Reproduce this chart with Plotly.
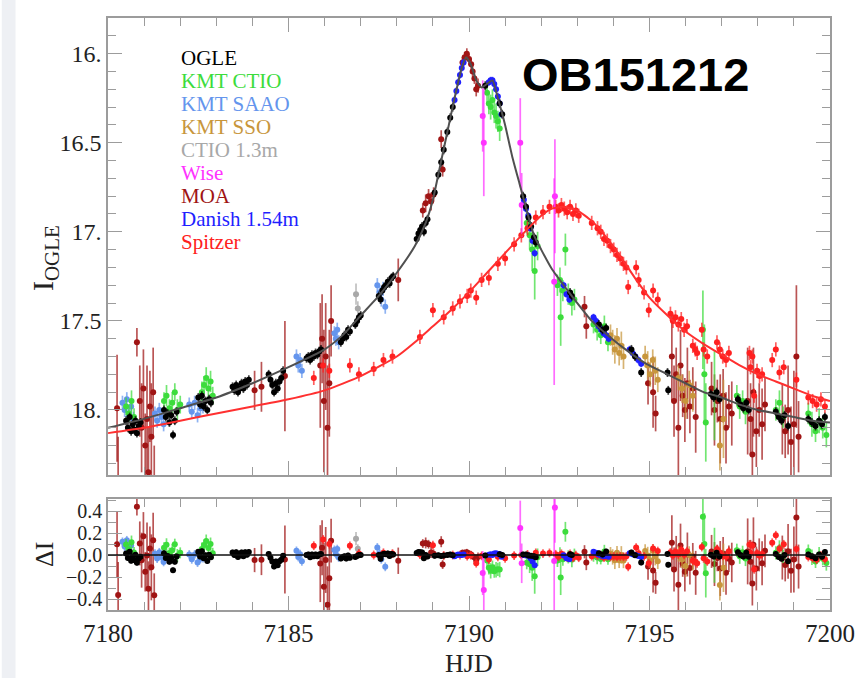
import numpy as np
import plotly.graph_objects as go

# ---------------- model curves ----------------
GROUND_T = [7180.0, 7181.0, 7182.0, 7183.0, 7184.0, 7185.0, 7186.0, 7186.5, 7187.0, 7187.5,
            7188.0, 7188.5, 7188.8, 7189.0, 7189.2, 7189.4, 7189.6, 7189.8, 7189.92, 7190.05,
            7190.2, 7190.35, 7190.5, 7190.65, 7190.8, 7191.0, 7191.2, 7191.4, 7191.6, 7191.8,
            7192.0, 7192.3, 7192.7, 7193.0, 7193.4, 7193.9, 7194.4, 7194.9, 7195.5, 7196.0,
            7196.5, 7197.0, 7197.5, 7198.0, 7198.5, 7199.0, 7199.5, 7200.0]
GROUND_I = [18.10, 18.05, 17.99, 17.93, 17.85, 17.76, 17.66, 17.58, 17.47, 17.36,
            17.23, 17.08, 16.95, 16.82, 16.63, 16.44, 16.25, 16.08, 16.02, 16.06,
            16.15, 16.19, 16.17, 16.15, 16.25, 16.40, 16.58, 16.73, 16.88, 17.02,
            17.10, 17.21, 17.32, 17.40, 17.50, 17.59, 17.67, 17.74, 17.80, 17.85,
            17.90, 17.93, 17.97, 18.00, 18.02, 18.04, 18.06, 18.07]

SPZ_MODEL_T = [7180.0, 7181.0, 7182.0, 7183.0, 7184.0, 7185.0, 7186.0, 7187.0, 7188.0, 7188.5,
               7189.0, 7189.5, 7190.0, 7190.5, 7191.0, 7191.5, 7192.0, 7192.3, 7192.6, 7193.0,
               7193.4, 7193.8, 7194.2, 7194.6, 7195.0, 7195.5, 7196.0, 7196.5, 7197.0, 7197.5,
               7198.0, 7198.5, 7199.0, 7199.5, 7200.0]
SPZ_MODEL_I = [18.13, 18.10, 18.06, 18.02, 17.98, 17.94, 17.89, 17.81, 17.70, 17.62,
               17.53, 17.44, 17.34, 17.23, 17.12, 17.01, 16.91, 16.87, 16.86, 16.88,
               16.94, 17.03, 17.14, 17.26, 17.37, 17.47, 17.56, 17.63, 17.69, 17.75,
               17.80, 17.84, 17.88, 17.92, 17.95]

# ---------------- data ----------------
OGLE_T = [7180.50, 7180.55, 7180.60, 7180.64, 7180.68, 7180.72, 7180.76, 7180.80, 7180.85, 7180.90,
          7181.55, 7181.60, 7181.65, 7181.70, 7181.75, 7181.80, 7181.85, 7181.90,
          7182.50, 7182.55, 7182.60, 7182.65, 7182.70, 7182.75, 7182.80, 7182.85,
          7183.45, 7183.50, 7183.55, 7183.60, 7183.65, 7183.70, 7183.75, 7183.80, 7183.85, 7183.90,
          7184.45, 7184.50, 7184.55, 7184.60, 7184.65, 7184.70, 7184.75, 7184.80, 7184.85,
          7185.50, 7185.55, 7185.60, 7185.65, 7185.70, 7185.75, 7185.80, 7185.85, 7185.90,
          7186.45, 7186.50, 7186.55, 7186.60, 7186.65, 7186.70,
          7186.85, 7186.90, 7186.95, 7187.00,
          7187.50, 7187.55, 7187.60, 7187.65, 7187.70, 7187.75, 7187.80, 7187.85, 7187.90,
          7188.55, 7188.60, 7188.65, 7188.70, 7188.75, 7188.80, 7188.85,
          7189.05, 7189.15, 7189.23, 7189.30, 7189.40, 7189.48, 7189.55,
          7190.45, 7190.85, 7190.92,
          7191.50, 7191.58, 7191.65, 7191.72, 7191.80, 7191.85,
          7192.80, 7192.85,
          7193.60, 7193.70, 7193.80,
          7194.50, 7194.60, 7194.77,
          7195.50, 7195.52,
          7196.70, 7196.78, 7196.86, 7196.94,
          7197.45, 7197.52, 7197.60, 7197.68, 7197.75,
          7198.50, 7198.58, 7198.66, 7198.74, 7198.84,
          7199.40, 7199.50, 7199.60, 7199.70, 7199.78, 7199.86]
OGLE_I = [18.06, 18.10, 18.04, 18.12, 18.08, 18.11, 18.06, 18.13, 18.09, 18.07,
          18.00, 18.04, 18.02, 18.07, 18.03, 18.14, 18.06, 18.01,
          17.93, 17.97, 17.92, 17.98, 17.95, 18.00, 17.94, 17.96,
          17.87, 17.89, 17.86, 17.90, 17.88, 17.85, 17.88, 17.84, 17.86, 17.83,
          17.80, 17.83, 17.86, 17.90, 17.85, 17.88, 17.84, 17.82, 17.78,
          17.71, 17.70, 17.72, 17.69, 17.70, 17.68, 17.69, 17.67, 17.66,
          17.62, 17.60, 17.58, 17.59, 17.55, 17.56,
          17.52, 17.50, 17.48, 17.47,
          17.36, 17.38, 17.33, 17.31, 17.30, 17.28, 17.29, 17.26, 17.25,
          17.04, 17.01, 16.99, 16.97, 17.00, 16.95, 16.93,
          16.78, 16.68, 16.61, 16.54, 16.44, 16.36, 16.30,
          16.18, 16.28, 16.34,
          16.80, 16.86, 16.92, 16.97, 17.03, 17.06,
          17.34, 17.36,
          17.52, 17.55, 17.54,
          17.66, 17.70, 17.79,
          17.79, 17.89,
          17.91, 17.93, 17.90, 17.94,
          17.94, 17.97, 17.99, 17.96, 18.00,
          18.01, 18.04, 18.06, 18.03, 18.09,
          18.05, 18.07, 18.09, 18.06, 18.08, 18.04]
OGLE_ERR = 0.025

CTIO_T = [7180.50, 7180.58, 7180.65, 7180.72,
          7181.55, 7181.62, 7181.70, 7181.78, 7181.85, 7181.92, 7182.00,
          7182.60, 7182.66, 7182.72, 7182.78, 7182.84, 7182.90,
          7190.50, 7190.55, 7190.60, 7190.65, 7190.70, 7190.75, 7190.80, 7190.85,
          7191.60, 7191.68, 7191.75, 7191.82, 7191.90,
          7192.45, 7192.52, 7192.54, 7192.60, 7192.67, 7192.75, 7192.85, 7192.92,
          7193.45, 7193.55, 7193.65, 7193.75, 7193.85,
          7196.48, 7196.52, 7196.56, 7196.80,
          7197.42, 7197.50, 7197.58, 7197.66,
          7198.50, 7198.60, 7198.70,
          7199.40, 7199.50, 7199.60, 7199.70, 7199.80, 7199.90]
CTIO_I = [17.98, 18.02, 17.95, 18.04,
          17.95, 17.92, 17.99, 17.96, 17.90, 18.00, 17.97,
          17.90, 17.86, 17.82, 17.88, 17.84, 17.92,
          16.22, 16.28, 16.30, 16.26, 16.33, 16.35, 16.38, 16.42,
          16.95, 17.02, 17.10, 17.22, 17.08,
          17.30, 17.27, 17.48, 17.33, 17.10, 17.35, 17.40, 17.38,
          17.52, 17.55, 17.58, 17.53, 17.62,
          17.55, 17.80, 18.07, 17.92,
          17.92, 17.98, 17.95, 18.01,
          18.00, 17.96, 18.04,
          18.02, 18.08, 18.12, 18.06, 18.10, 18.14]
CTIO_E = [0.05, 0.05, 0.06, 0.05,
          0.05, 0.06, 0.05, 0.06, 0.05, 0.06, 0.05,
          0.06, 0.05, 0.06, 0.05, 0.06, 0.05,
          0.07, 0.06, 0.07, 0.06, 0.06, 0.07, 0.06, 0.07,
          0.06, 0.08, 0.12, 0.16, 0.08,
          0.06, 0.07, 0.16, 0.06, 0.09, 0.06, 0.07, 0.06,
          0.05, 0.06, 0.05, 0.06, 0.05,
          0.22, 0.28, 0.22, 0.25,
          0.06, 0.07, 0.06, 0.07,
          0.06, 0.07, 0.06,
          0.06, 0.07, 0.06, 0.07, 0.06, 0.07]

SAAO_T = [7180.40, 7180.46, 7180.52, 7180.58, 7180.64, 7180.70,
          7181.30, 7181.36, 7181.42, 7181.48, 7181.54,
          7182.25, 7182.32, 7182.40, 7182.48, 7182.56, 7182.63,
          7185.22, 7185.27, 7185.32, 7185.37,
          7186.27, 7186.31, 7186.35, 7186.39,
          7187.46, 7187.52, 7187.57, 7187.62, 7187.68]
SAAO_I = [17.96, 18.00, 17.94, 18.03, 17.98, 18.05,
          18.02, 18.06, 18.00, 18.04, 18.08,
          17.97, 18.01, 17.96, 18.03, 17.99, 17.98,
          17.70, 17.75, 17.72, 17.78,
          17.57, 17.60, 17.55, 17.62,
          17.30, 17.34, 17.38, 17.32, 17.42]
SAAO_ERR = 0.04

SSO_T = [7193.92, 7193.98, 7194.04, 7194.10, 7194.16, 7194.22, 7194.28,
         7194.88, 7194.95, 7195.02, 7195.09, 7195.16, 7195.23,
         7195.80, 7195.90, 7196.00, 7196.10, 7196.20,
         7196.95, 7197.05]
SSO_I = [17.58, 17.62, 17.66, 17.60, 17.68, 17.64, 17.70,
         17.70, 17.75, 17.80, 17.72, 17.78, 17.83,
         17.82, 17.88, 17.95, 17.86, 17.92,
         18.20, 18.05]
SSO_E = [0.06, 0.07, 0.08, 0.06, 0.07, 0.08, 0.07,
         0.06, 0.08, 0.07, 0.06, 0.08, 0.07,
         0.07, 0.08, 0.10, 0.08, 0.09,
         0.14, 0.22]

CT13_T = [7186.87, 7186.92]
CT13_I = [17.35, 17.43]
CT13_E = [0.06, 0.04]

WISE_T = [7190.38, 7190.41, 7191.42, 7191.46, 7192.36, 7192.38]
WISE_I = [16.35, 16.50, 16.50, 16.85, 17.28, 16.80]
WISE_E = [0.20, 0.30, 0.25, 0.18, 0.58, 0.32]

MOA_T = [7180.25, 7180.28, 7180.80,
         7180.88, 7180.93, 7180.98, 7181.03, 7181.08, 7181.12, 7181.16, 7181.20, 7181.25, 7181.28,
         7184.06, 7184.25, 7184.90,
         7185.88, 7185.93, 7185.98, 7186.03, 7186.08, 7186.13, 7186.18,
         7188.04,
         7188.72, 7188.80, 7188.88, 7188.95, 7189.02,
         7189.23, 7189.27,
         7189.82, 7189.88, 7189.94, 7190.00, 7190.06, 7190.10, 7190.15, 7190.20, 7190.25,
         7193.20, 7193.25,
         7194.96, 7195.10, 7195.17,
         7195.62, 7195.68, 7195.74, 7195.80, 7195.86, 7195.92, 7195.98, 7196.05, 7196.12, 7196.20, 7196.28,
         7196.72, 7196.80, 7196.88, 7196.96, 7197.04, 7197.12, 7197.20, 7197.28,
         7197.72, 7197.80, 7197.85, 7197.88, 7197.96, 7198.04, 7198.12, 7198.20,
         7198.68, 7198.76, 7198.84, 7198.92, 7199.00, 7199.07, 7199.13]
MOA_I = [17.99, 18.45, 17.62,
         17.95, 18.10, 17.88, 18.20, 18.05, 18.35, 17.98, 18.15, 17.90, 18.40,
         17.89, 17.87, 17.81,
         17.75, 17.60, 17.95, 17.70, 18.10, 17.85, 17.50,
         17.27,
         16.88, 16.84, 16.80, 16.83, 16.79,
         16.48, 16.65,
         16.05, 16.02, 16.00, 16.03, 16.06, 16.10, 16.14, 16.20, 16.18,
         17.42, 17.53,
         17.85, 17.90, 18.02,
         17.70, 17.95, 17.80, 18.10, 17.75, 17.92, 18.00, 17.85, 17.98, 17.88, 18.04,
         17.88, 18.00, 17.95, 18.05, 17.92, 18.10, 17.98, 18.02,
         17.95, 18.05, 18.25, 17.90, 18.12, 18.00, 18.08, 17.97,
         18.05, 18.12, 18.00, 18.18, 18.08, 17.70, 18.15]
MOA_E = [0.30, 0.30, 0.08,
         0.20, 0.25, 0.22, 0.18, 0.30, 0.25, 0.20, 0.30, 0.25, 0.20,
         0.11, 0.14, 0.31,
         0.35, 0.25, 0.40, 0.30, 0.35, 0.30, 0.20,
         0.12,
         0.04, 0.05, 0.04, 0.05, 0.04,
         0.05, 0.04,
         0.03, 0.03, 0.03, 0.03, 0.03, 0.03, 0.03, 0.04, 0.04,
         0.06, 0.07,
         0.12, 0.20, 0.10,
         0.25, 0.20, 0.15, 0.30, 0.20, 0.12, 0.18, 0.20, 0.15, 0.12, 0.20,
         0.15, 0.20, 0.12, 0.25, 0.15, 0.20, 0.12, 0.18,
         0.30, 0.20, 0.20, 0.25, 0.20, 0.15, 0.20, 0.15,
         0.20, 0.15, 0.25, 0.20, 0.30, 0.40, 0.20]

DAN_T = [7189.60, 7189.65, 7189.70, 7189.75, 7189.80, 7189.85,
         7190.55, 7190.60, 7190.65, 7190.70, 7190.75, 7190.80, 7190.85, 7190.90,
         7191.52, 7191.58, 7191.64, 7191.70, 7191.76, 7191.82,
         7192.62, 7192.70, 7192.78,
         7193.45, 7193.52, 7193.59, 7193.66, 7193.73, 7193.80, 7193.87,
         7194.45, 7194.53, 7194.61, 7194.69, 7194.77]
DAN_I = [16.26, 16.21, 16.16, 16.12, 16.08, 16.05,
         16.16, 16.15, 16.15, 16.17, 16.20, 16.24, 16.28, 16.34,
         16.82, 16.87, 16.91, 16.98, 17.05, 17.12,
         17.30, 17.35, 17.38,
         17.48, 17.50, 17.53, 17.55, 17.57, 17.58, 17.60,
         17.66, 17.68, 17.70, 17.72, 17.74]
DAN_ERR = 0.02

SPZ_T = [7185.70, 7185.96, 7186.13, 7186.70, 7186.95, 7187.36, 7187.63, 7187.88,
         7188.64, 7189.00, 7189.30, 7189.55, 7189.75, 7189.95, 7190.05, 7190.20, 7190.35, 7190.55,
         7190.80, 7191.00, 7191.25, 7191.45, 7191.62, 7191.85, 7192.05, 7192.23,
         7192.40, 7192.48, 7192.56, 7192.64, 7192.72, 7192.80, 7192.88, 7192.96, 7193.04,
         7193.40,
         7193.56, 7193.65, 7193.74, 7193.83, 7193.92, 7194.01, 7194.10, 7194.19, 7194.28, 7194.36,
         7194.41, 7194.63, 7194.70, 7194.85, 7194.98, 7195.10, 7195.23,
         7195.58, 7195.65, 7195.72, 7195.80, 7195.88, 7195.96, 7196.04,
         7196.27, 7196.45,
         7196.20, 7196.32, 7196.50, 7196.60,
         7196.87, 7196.95, 7197.03, 7197.12, 7197.20,
         7197.77, 7197.85,
         7197.80, 7197.90, 7197.98, 7198.05, 7198.12,
         7198.40, 7198.50, 7198.60, 7198.72,
         7199.07,
         7199.40, 7199.52, 7199.63, 7199.75, 7199.86]
SPZ_I = [17.82, 17.75, 17.78, 17.75, 17.80, 17.77, 17.72, 17.70,
         17.59, 17.44, 17.48, 17.43, 17.39, 17.36, 17.33, 17.37, 17.27, 17.26,
         17.18, 17.15, 17.07, 17.02, 16.98, 16.92, 16.89, 16.86,
         16.86, 16.88, 16.85, 16.87, 16.89, 16.86, 16.90, 16.88, 16.91,
         16.95,
         16.98, 17.00, 17.04, 17.05, 17.08, 17.10, 17.13, 17.15, 17.18, 17.20,
         17.31, 17.20, 17.27, 17.34, 17.44, 17.33, 17.38,
         17.46, 17.50, 17.48, 17.52, 17.49, 17.55, 17.53,
         17.66, 17.55,
         17.64, 17.68, 17.66, 17.70,
         17.62, 17.66, 17.70, 17.72, 17.68,
         17.68, 17.70,
         17.76, 17.92, 17.78, 17.81, 17.80,
         17.72, 17.66, 17.79, 17.76,
         17.83,
         17.93, 17.95, 17.97, 17.94, 17.98]
SPZ_ERR = 0.04

LEGEND = ["OGLE", "KMT CTIO", "KMT SAAO", "KMT SSO", "CTIO 1.3m", "Wise", "MOA", "Danish 1.54m", "Spitzer"]
COLORS = {"OGLE": "#000000", "KMT CTIO": "#3cdc3c", "KMT SAAO": "#6495ed", "KMT SSO": "#c8963c",
          "CTIO 1.3m": "#a8a8a8", "Wise": "#ff33ff", "MOA": "#a01414", "Danish 1.54m": "#1f1fff",
          "Spitzer": "#ff2020"}

Y_TICKS = [16, 16.5, 17, 17.5, 18]
Y_TICKTEXT = ["16.", "16.5", "17.", "17.5", "18."]
R_TICKS = [-0.4, -0.2, 0.0, 0.2, 0.4]
R_TICKTEXT = ["\u22120.4", "\u22120.2", "0.0", "0.2", "0.4"]
X_TICKS = [7180, 7185, 7190, 7195, 7200]
X_TICKTEXT = ["7180", "7185", "7190", "7195", "7200"]

SERIF = "Liberation Serif, Times New Roman, Times, DejaVu Serif, serif"

# ---------------- figure ----------------
fig = go.Figure()


def rgba(hexc, a):
    h = hexc.lstrip('#')
    return "rgba(%d,%d,%d,%.2f)" % (int(h[0:2], 16), int(h[2:4], 16), int(h[4:6], 16), a)


def add_set(name, t, m, e, mt, mi, size=6):
    t = np.asarray(t, float)
    m = np.asarray(m, float)
    e = np.broadcast_to(np.asarray(e, float), t.shape)
    resid = np.interp(t, mt, mi) - m
    c = COLORS[name]
    err = dict(type='data', array=e, color=rgba(c, 0.72), thickness=1.7, width=0)
    fig.add_trace(go.Scatter(x=t, y=m, mode='markers', name=name,
                             marker=dict(color=c, size=size, line=dict(width=0)),
                             error_y=err, xaxis='x', yaxis='y'))
    fig.add_trace(go.Scatter(x=t, y=resid, mode='markers', name=name,
                             marker=dict(color=c, size=size, line=dict(width=0)),
                             error_y=err, xaxis='x2', yaxis='y2'))


add_set("MOA", MOA_T, MOA_I, MOA_E, GROUND_T, GROUND_I)
add_set("KMT SSO", SSO_T, SSO_I, SSO_E, GROUND_T, GROUND_I)
add_set("KMT SAAO", SAAO_T, SAAO_I, SAAO_ERR, GROUND_T, GROUND_I)
add_set("KMT CTIO", CTIO_T, CTIO_I, CTIO_E, GROUND_T, GROUND_I)
add_set("CTIO 1.3m", CT13_T, CT13_I, CT13_E, GROUND_T, GROUND_I)
add_set("Spitzer", SPZ_T, SPZ_I, SPZ_ERR, SPZ_MODEL_T, SPZ_MODEL_I)
add_set("Wise", WISE_T, WISE_I, WISE_E, GROUND_T, GROUND_I)
add_set("Danish 1.54m", DAN_T, DAN_I, DAN_ERR, GROUND_T, GROUND_I)
add_set("OGLE", OGLE_T, OGLE_I, OGLE_ERR, GROUND_T, GROUND_I)

fig.add_trace(go.Scatter(x=GROUND_T, y=GROUND_I, mode='lines', xaxis='x', yaxis='y',
                         line=dict(color='#505050', width=2, shape='spline', smoothing=0.5)))
fig.add_trace(go.Scatter(x=SPZ_MODEL_T, y=SPZ_MODEL_I, mode='lines', xaxis='x', yaxis='y',
                         line=dict(color='#ff3030', width=2, shape='spline', smoothing=0.5)))

W, H = 867, 678
ML, MR, MT, MB = 108, 25, 18, 68
PW, PH = W - ML - MR, H - MT - MB


def px(xp):
    return (xp - ML) / PW


def py(yp):
    return (H - MB - yp) / PH


FRAME = '#9c9c9c'
TICKF = dict(family=SERIF, size=24, color="#222222")
common = dict(showgrid=False, zeroline=False, showline=True, linecolor=FRAME, linewidth=1.5,
              mirror='allticks', ticks='inside', tickcolor=FRAME, tickwidth=1.2, ticklen=14)
XR = [7179.999, 7200.001]

fig.update_layout(
    width=W, height=H, margin=dict(l=ML, r=MR, t=MT, b=MB),
    paper_bgcolor='white', plot_bgcolor='white', showlegend=False,
    xaxis=dict(domain=[0, 1], anchor='y', range=XR, tickvals=X_TICKS,
               showticklabels=False,
               minor=dict(tickmode='linear', tick0=7180, dtick=1, ticks='inside', ticklen=8,
                          tickcolor=FRAME, tickwidth=1.2), **common),
    yaxis=dict(domain=[py(475), 1], anchor='x', range=[18.365, 15.80], tickvals=Y_TICKS,
               ticktext=Y_TICKTEXT, tickfont=TICKF,
               minor=dict(tickmode='linear', tick0=16, dtick=0.1, ticks='inside', ticklen=8,
                          tickcolor=FRAME, tickwidth=1.2), **common),
    xaxis2=dict(domain=[0, 1], anchor='y2', range=XR, tickvals=X_TICKS,
                ticktext=X_TICKTEXT, tickfont=dict(family=SERIF, size=25, color="#222222"),
                minor=dict(tickmode='linear', tick0=7180, dtick=1, ticks='inside', ticklen=8,
                           tickcolor=FRAME, tickwidth=1.2), **common),
    yaxis2=dict(domain=[0, py(499)], anchor='x2', range=[-0.5, 0.51], tickvals=R_TICKS,
                ticktext=R_TICKTEXT, tickfont=dict(family=SERIF, size=20, color="#222222"),
                minor=dict(tickmode='linear', tick0=0, dtick=0.1, ticks='inside', ticklen=8,
                           tickcolor=FRAME, tickwidth=1.2), **common),
)

# zero line of residual panel
fig.add_shape(type='line', xref='x2 domain', yref='y2', x0=0, x1=1, y0=0, y1=0,
              line=dict(color='#111111', width=1.6))

# left light strip of the original picture
fig.add_shape(type='rect', xref='paper', yref='paper', x0=px(0), x1=px(14), y0=py(H), y1=py(0),
              fillcolor='#eef0f4', line=dict(width=0), layer='below')

ann = []
for i, name in enumerate(LEGEND):
    ann.append(dict(text=name, xref='paper', yref='paper', x=px(180), y=py(58 + 23 * i),
                    xanchor='left', yanchor='middle', showarrow=False,
                    font=dict(family=SERIF, size=21, color=COLORS[name])))
ann.append(dict(text="<b>OB151212</b>", xref='paper', yref='paper', x=px(644), y=py(74),
                xanchor='center', yanchor='middle', showarrow=False,
                font=dict(family="Liberation Sans, Arial, sans-serif", size=47, color='#000000')))
ann.append(dict(text="I<sub>OGLE</sub>", xref='paper', yref='paper', x=px(44), y=py(258),
                xanchor='center', yanchor='middle', showarrow=False, textangle=-90,
                font=dict(family=SERIF, size=30, color='#222222')))
ann.append(dict(text="\u0394I", xref='paper', yref='paper', x=px(43), y=py(555),
                xanchor='center', yanchor='middle', showarrow=False, textangle=-90,
                font=dict(family=SERIF, size=26, color='#222222')))
ann.append(dict(text="HJD", xref='paper', yref='paper', x=px(475), y=py(663),
                xanchor='center', yanchor='middle', showarrow=False,
                font=dict(family=SERIF, size=26, color='#222222')))
fig.update_layout(annotations=ann)

fig.write_html("out.html")
